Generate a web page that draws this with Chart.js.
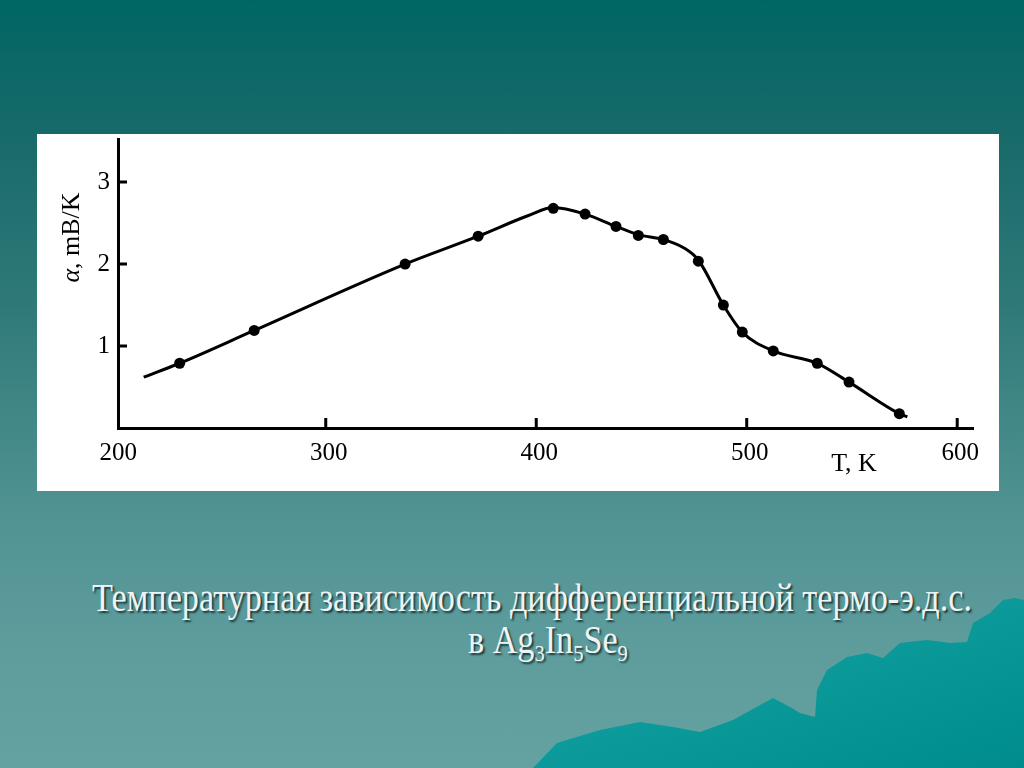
<!DOCTYPE html>
<html><head><meta charset="utf-8">
<script src="https://cdn.jsdelivr.net/npm/chart.js@4/dist/chart.umd.min.js"></script>
<style>
html,body{margin:0;padding:0;width:1024px;height:768px;overflow:hidden;}
body{background:linear-gradient(to bottom,#006664 0%,#176a69 17%,#2f7a79 40%,#4f9191 65%,#5f9d9d 85%,#64a2a2 100%);position:relative;font-family:"Liberation Serif",serif;}
#bg{position:absolute;left:0;top:0;}
#box{position:absolute;left:37px;top:134px;width:962px;height:357px;background:#fff;}
.cap{position:absolute;color:#eef4f3;text-shadow:2px 2px 2px #17393a;font-family:"Liberation Serif",serif;font-size:40px;line-height:40px;white-space:nowrap;transform-origin:left top;}
.cap sub{font-size:24px;vertical-align:-8px;line-height:0;}
</style></head>
<body>
<svg id="bg" width="1024" height="768">
<defs><linearGradient id="mg" x1="0" y1="0" x2="1" y2="1"><stop offset="0" stop-color="#16a6a6"/><stop offset="1" stop-color="#008c8c"/></linearGradient></defs>
<polygon fill="url(#mg)" points="533,768 557,743 600,730 640,722 673,727 700,732 733,720 760,705 773,698 790,707 800,713 815,717 817,690 827,670 847,657 867,653 883,658 900,643 927,640 950,643 967,642 973,623 990,613 1003,600 1015,598 1024,600 1024,768"/>
</svg>
<div id="box"><canvas id="c" width="962" height="357"></canvas></div>
<div class="cap" id="l1" style="left:92px;top:578px;">Температурная зависимость дифференциальной термо-э.д.с.</div>
<div class="cap" id="l2" style="left:466px;top:620px;">в Ag<sub>3</sub>In<sub>5</sub>Se<sub>9</sub></div>
<script>
// measured points
const markerT = [230.6, 266.0, 337.7, 372.4, 408.1, 423.2, 437.9, 448.5, 460.4, 477.0, 488.9, 497.9, 512.6, 533.5, 548.6, 572.5];
const markerA = [0.79, 1.19, 2.00, 2.34, 2.68, 2.61, 2.46, 2.35, 2.30, 2.035, 1.50, 1.17, 0.94, 0.79, 0.56, 0.175];
// drawn fitting curve nodes
const curveT = [213.5, 230.6, 266.0, 337.7, 372.4, 396.0, 408.1, 423.2, 437.9, 448.5, 460.4, 470.0, 477.0, 488.9, 497.9, 512.6, 533.5, 548.6, 572.5, 576.3];
const curveA = [0.62, 0.79, 1.19, 2.00, 2.34, 2.59, 2.69, 2.61, 2.46, 2.36, 2.30, 2.20, 2.05, 1.50, 1.17, 0.94, 0.79, 0.56, 0.175, 0.135];
const xTicks = [200, 300, 400, 500, 600];
const yTicks = [1, 2, 3];

// caption condensing
const l1 = document.getElementById('l1'), l2 = document.getElementById('l2');
const w1 = l1.getBoundingClientRect().width;
const s = 880 / w1;
l1.style.transform = 'scaleX(' + s + ')';
const w2 = l2.getBoundingClientRect().width * s;
l2.style.left = (548 - w2 / 2) + 'px';
l2.style.transform = 'scaleX(' + s + ')';

const FONT = '"Liberation Serif", serif';
const FS = 25;
const deco = {
  id: 'deco',
  afterDraw(chart) {
    const {ctx, chartArea: a, scales: {x, y}} = chart;
    ctx.save();
    ctx.strokeStyle = '#000';
    ctx.lineWidth = 3;
    ctx.beginPath();
    xTicks.forEach(v => { if (v === 200) return; const px = x.getPixelForValue(v); ctx.moveTo(px, a.bottom); ctx.lineTo(px, a.bottom - 10); });
    yTicks.forEach(v => { const py = y.getPixelForValue(v); ctx.moveTo(a.left, py); ctx.lineTo(a.left + 9, py); });
    ctx.stroke();
    ctx.fillStyle = '#000';
    ctx.textBaseline = 'middle';
    ctx.textAlign = 'center';
    ctx.font = '26px ' + FONT;
    ctx.fillText('T, K', a.left + 736, a.bottom + 36);
    // y title
    ctx.translate(a.left - 46, a.top + 98);
    ctx.rotate(-Math.PI / 2);
    ctx.textAlign = 'left';
    ctx.font = 'italic 26px ' + FONT;
    const wa = ctx.measureText('α').width;
    ctx.font = '26px ' + FONT;
    const wr = ctx.measureText(', mB/K').width;
    const st = -(wa + wr) / 2;
    ctx.font = 'italic 26px ' + FONT;
    ctx.fillText('α', st, 0);
    ctx.font = '26px ' + FONT;
    ctx.fillText(', mB/K', st + wa, 0);
    ctx.restore();
  }
};

new Chart(document.getElementById('c'), {
  type: 'scatter',
  data: {
    datasets: [
      {
        data: curveT.map((t, i) => ({x: t, y: curveA[i]})),
        showLine: true,
        borderColor: '#000',
        borderWidth: 3,
        pointRadius: 0,
        cubicInterpolationMode: 'monotone',
        fill: false
      },
      {
        data: markerT.map((t, i) => ({x: t, y: markerA[i]})),
        pointRadius: 5.5,
        pointBackgroundColor: '#000',
        pointBorderWidth: 0,
        showLine: false
      }
    ]
  },
  options: {
    responsive: false,
    animation: false,
    layout: {padding: {top: 3, right: 26, left: 0, bottom: 0}},
    plugins: {legend: {display: false}, tooltip: {enabled: false}},
    scales: {
      x: {
        type: 'linear', min: 201.3, max: 607.5,
        afterBuildTicks: sc => { sc.ticks = xTicks.map(v => ({value: v})); },
        afterFit: sc => { sc.height = 63; sc.paddingLeft = 0; sc.paddingRight = 0; },
        grid: {display: false, drawTicks: false},
        border: {display: true, color: '#000', width: 3},
        ticks: {color: '#000', font: {family: FONT, size: FS}, padding: 10, maxRotation: 0, labelOffset: 3}
      },
      y: {
        type: 'linear', min: 0, max: 3.52,
        afterBuildTicks: sc => { sc.ticks = yTicks.map(v => ({value: v})); },
        afterFit: sc => { sc.width = 81; sc.paddingTop = 0; sc.paddingBottom = 0; },
        grid: {display: false, drawTicks: false},
        border: {display: true, color: '#000', width: 3},
        ticks: {color: '#000', font: {family: FONT, size: FS}, padding: 8}
      }
    }
  },
  plugins: [deco]
});
</script>
</body></html>
